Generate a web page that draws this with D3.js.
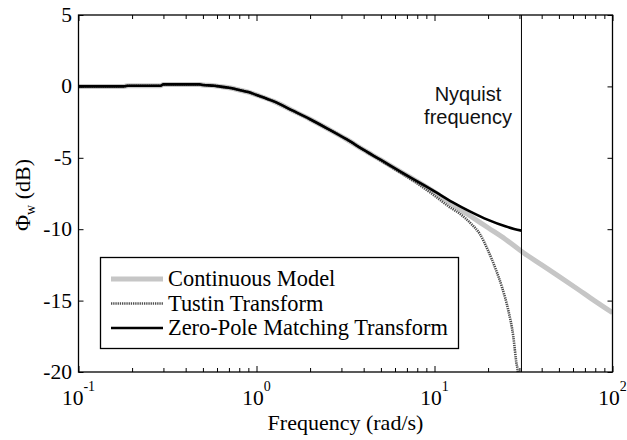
<!DOCTYPE html>
<html>
<head>
<meta charset="utf-8">
<script src="https://cdn.jsdelivr.net/npm/d3@7/dist/d3.min.js"></script>
<style>
  html, body { margin: 0; padding: 0; background: #fff; }
  svg { display: block; }
</style>
</head>
<body>
<svg id="chart" width="627" height="440"></svg>
<script>
// Frequency response of the continuous gust model and its two discretisations
const contFreq = [0.1, 0.15, 0.18, 0.19, 0.29, 0.30, 0.48, 0.5, 0.58, 0.6, 0.7, 0.8, 0.9, 1.0, 1.25, 1.6, 2.0, 2.5, 3.2, 4.0, 5.0, 6.3, 8.0, 10, 12.6, 15.8, 20, 25, 31.6, 40, 50, 63, 79, 100];
const contDb   = [0, 0, 0, 0.05, 0.05, 0.14, 0.14, 0.1, 0.05, 0.02, -0.1, -0.25, -0.4, -0.6, -1.05, -1.7, -2.3, -2.95, -3.7, -4.45, -5.15, -5.9, -6.65, -7.4, -8.25, -9.05, -9.9, -10.7, -11.65, -12.5, -13.3, -14.15, -15.0, -15.85];

const tustinFreq = [0.1, 0.15, 0.18, 0.19, 0.29, 0.30, 0.48, 0.5, 0.58, 0.6, 0.7, 0.8, 0.9, 1.0, 1.25, 1.6, 2.0, 2.5, 3.2, 4.0, 5.0, 6.3, 8.0, 10, 12, 14, 16, 18, 20, 22, 24, 26, 27.7, 28.8, 29.4, 29.8];
const tustinDb   = [0, 0, 0, 0.05, 0.05, 0.14, 0.14, 0.1, 0.05, 0.02, -0.1, -0.25, -0.4, -0.6, -1.05, -1.7, -2.3, -2.95, -3.7, -4.45, -5.2, -5.97, -6.8, -7.65, -8.4, -8.95, -9.6, -10.35, -11.5, -12.75, -14.1, -15.7, -17.5, -19.3, -20.1, -21.5];

const zpmFreq = [0.1, 0.15, 0.18, 0.19, 0.29, 0.30, 0.48, 0.5, 0.58, 0.6, 0.7, 0.8, 0.9, 1.0, 1.25, 1.6, 2.0, 2.5, 3.2, 4.0, 5.0, 6.3, 8.0, 10, 12.6, 15.8, 20, 25, 28, 30.8];
const zpmDb   = [0, 0, 0, 0.05, 0.05, 0.14, 0.14, 0.1, 0.05, 0.02, -0.1, -0.25, -0.4, -0.6, -1.05, -1.7, -2.3, -2.95, -3.7, -4.45, -5.15, -5.9, -6.65, -7.35, -8.1, -8.75, -9.35, -9.8, -9.98, -10.1];

const nyquistFreq = 30.8;

const yTicks = [5, 0, -5, -10, -15, -20];
const xMajor = [0.1, 1, 10, 100];
const xMajorExp = ["-1", "0", "1", "2"];
const legendLabels = ["Continuous Model", "Tustin Transform", "Zero-Pole Matching Transform"];

const SERIF = "font-family:'Liberation Serif','Times New Roman',serif";
const SANS = "font-family:'Liberation Sans',Arial,sans-serif";

const svg = d3.select("#chart");
const plot = { left: 78.5, right: 612.5, top: 15, bottom: 372 };

const x = d3.scaleLog().domain([0.1, 100]).range([plot.left, plot.right]);
const y = d3.scaleLinear().domain([-20, 5]).range([plot.bottom, plot.top]);

const xMinor = [];
for (let d = 0; d < 3; d++) {
  for (let k = 2; k <= 9; k++) xMinor.push(k * Math.pow(10, d - 1));
}

svg.append("defs").append("clipPath").attr("id", "plotClip")
  .append("rect")
  .attr("x", plot.left).attr("y", plot.top)
  .attr("width", plot.right - plot.left).attr("height", plot.bottom - plot.top);

const line = d3.line()
  .x(d => x(d[0]))
  .y(d => y(d[1]))
  .curve(d3.curveMonotoneX);

const series = [
  { f: contFreq, v: contDb, stroke: "#c6c6c6", width: 5, dash: null },
  { f: tustinFreq, v: tustinDb, stroke: "#4d4d4d", width: 2.6, dash: "1.3,0.9" },
  { f: zpmFreq, v: zpmDb, stroke: "#000", width: 2.6, dash: null }
];

const curves = svg.append("g").attr("clip-path", "url(#plotClip)");
series.forEach(s => {
  curves.append("path")
    .datum(s.f.map((f, i) => [f, s.v[i]]))
    .attr("fill", "none")
    .attr("stroke", s.stroke)
    .attr("stroke-width", s.width)
    .attr("stroke-dasharray", s.dash)
    .attr("stroke-linejoin", "round")
    .attr("d", line);
});

// Nyquist frequency marker
svg.append("line")
  .attr("x1", x(nyquistFreq)).attr("x2", x(nyquistFreq))
  .attr("y1", plot.top).attr("y2", plot.bottom)
  .attr("stroke", "#000").attr("stroke-width", 1);

const nyq = svg.append("text").attr("style", SANS)
  .attr("font-size", 20).attr("fill", "#111")
  .attr("text-anchor", "middle");
nyq.append("tspan").attr("x", 468).attr("y", 101).text("Nyquist");
nyq.append("tspan").attr("x", 468).attr("y", 124).text("frequency");

// Axes with inward ticks on all four sides
function styleAxis(g) {
  g.select(".domain").remove();
  g.selectAll(".tick line").attr("stroke", "#000").attr("stroke-width", 1);
  g.selectAll(".tick text").remove();
}
svg.append("g").attr("transform", `translate(0,${plot.bottom})`)
  .call(d3.axisBottom(x).tickValues(xMinor).tickSize(-4).tickFormat(""))
  .call(styleAxis);
svg.append("g").attr("transform", `translate(0,${plot.bottom})`)
  .call(d3.axisBottom(x).tickValues(xMajor).tickSize(-6).tickFormat(""))
  .call(styleAxis);
svg.append("g").attr("transform", `translate(0,${plot.top})`)
  .call(d3.axisTop(x).tickValues(xMinor).tickSize(-4).tickFormat(""))
  .call(styleAxis);
svg.append("g").attr("transform", `translate(0,${plot.top})`)
  .call(d3.axisTop(x).tickValues(xMajor).tickSize(-6).tickFormat(""))
  .call(styleAxis);
svg.append("g").attr("transform", `translate(${plot.left},0)`)
  .call(d3.axisLeft(y).tickValues(yTicks).tickSize(-5).tickFormat(""))
  .call(styleAxis);
svg.append("g").attr("transform", `translate(${plot.right},0)`)
  .call(d3.axisRight(y).tickValues(yTicks).tickSize(-5).tickFormat(""))
  .call(styleAxis);

svg.append("rect")
  .attr("x", plot.left).attr("y", plot.top)
  .attr("width", plot.right - plot.left).attr("height", plot.bottom - plot.top)
  .attr("fill", "none").attr("stroke", "#000").attr("stroke-width", 1.3);

// Tick labels
svg.append("g").selectAll("text").data(yTicks).join("text")
  .attr("style", SERIF)
  .attr("x", 72).attr("y", d => y(d) + 7)
  .attr("text-anchor", "end")
  .attr("font-size", 21.5).attr("fill", "#000")
  .text(d => d);

const xl = svg.append("g").selectAll("text").data(xMajor).join("text")
  .attr("style", SERIF)
  .attr("x", d => x(d)).attr("y", 405)
  .attr("text-anchor", "middle")
  .attr("font-size", 21.5).attr("fill", "#000");
xl.append("tspan").text("10");
xl.append("tspan").attr("dy", -14).attr("font-size", 14).text((d, i) => xMajorExp[i]);

// Axis titles
svg.append("text").attr("style", SERIF)
  .attr("x", (plot.left + plot.right) / 2).attr("y", 430)
  .attr("text-anchor", "middle")
  .attr("font-size", 22).attr("fill", "#000")
  .text("Frequency (rad/s)");

const yt = svg.append("text").attr("style", SERIF)
  .attr("transform", "translate(30,195) rotate(-90)")
  .attr("text-anchor", "middle")
  .attr("font-size", 22).attr("fill", "#000");
yt.append("tspan").text("Φ");
yt.append("tspan").attr("dy", 5).attr("font-size", 14).text("w");
yt.append("tspan").attr("dy", -5).text(" (dB)");

// Legend
const legend = svg.append("g");
legend.append("rect")
  .attr("x", 100.5).attr("y", 257.5).attr("width", 358).attr("height", 91)
  .attr("fill", "#fff").attr("stroke", "#000").attr("stroke-width", 1.3);
const rowY = [279, 303.5, 328];
legendLabels.forEach((label, i) => {
  const s = series[i];
  legend.append("line")
    .attr("x1", 111).attr("x2", 163).attr("y1", rowY[i]).attr("y2", rowY[i])
    .attr("stroke", s.stroke).attr("stroke-width", s.width)
    .attr("stroke-dasharray", s.dash);
  legend.append("text").attr("style", SERIF)
    .attr("x", 168).attr("y", rowY[i] + 7)
    .attr("font-size", 22.4).attr("fill", "#000")
    .text(label);
});
</script>
</body>
</html>
